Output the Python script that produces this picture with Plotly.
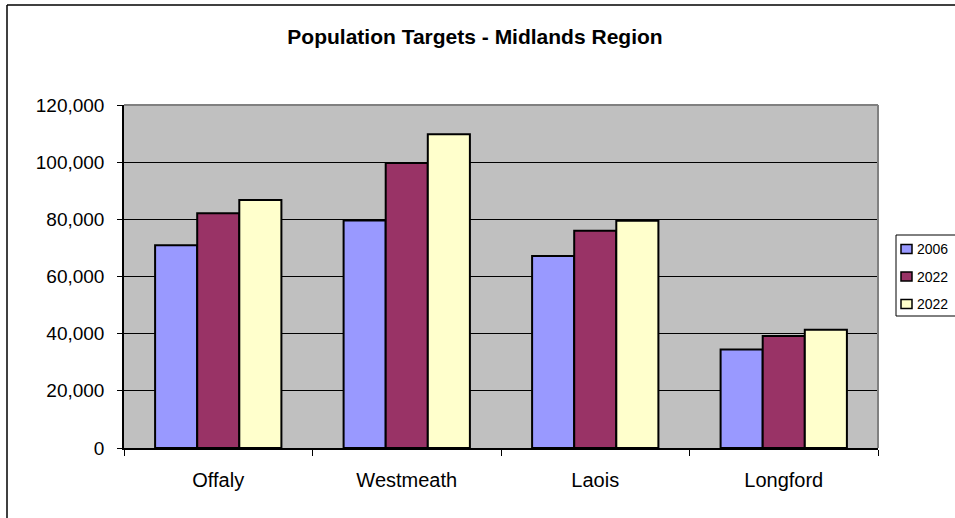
import plotly.graph_objects as go

# Population by county (Midlands region)
counties = ["Offaly", "Westmeath", "Laois", "Longford"]
series_names = ["2006", "2022", "2022"]
pop_2006 = [70900, 79600, 67200, 34500]
pop_2022_a = [82100, 99700, 76000, 39200]
pop_2022_b = [86800, 109800, 79500, 41400]
series_values = [pop_2006, pop_2022_a, pop_2022_b]
colors = ["#9999FF", "#993366", "#FFFFCC"]
y_ticks = [0, 20000, 40000, 60000, 80000, 100000, 120000]

W, H = 955, 518
L, R, T, B = 124, 878, 105, 448  # plot area in pixels

def px(x):
    return (x - L) / (R - L)

def py(y):
    return (B - y) / (B - T)

FONT = "Liberation Sans, Arial, sans-serif"

fig = go.Figure()
for name, vals, col in zip(series_names, series_values, colors):
    fig.add_trace(go.Bar(
        x=counties, y=vals, name=name,
        marker=dict(color=col, line=dict(color="black", width=2)),
        showlegend=False,
    ))

shapes = [
    # plot-area frame (top and right edges)
    dict(type="line", xref="paper", yref="paper", x0=0, x1=1, y0=1, y1=1,
         line=dict(color="#808080", width=2), layer="above"),
    dict(type="line", xref="paper", yref="paper", x0=1, x1=1, y0=0, y1=1,
         line=dict(color="#808080", width=2), layer="above"),
    # chart frame
    dict(type="line", xref="paper", yref="paper", x0=px(7), x1=px(W + 5),
         y0=py(5), y1=py(5), line=dict(color="black", width=1.5)),
    dict(type="line", xref="paper", yref="paper", x0=px(7), x1=px(7),
         y0=py(5), y1=py(H + 5), line=dict(color="black", width=1.5)),
    # legend box
    dict(type="rect", xref="paper", yref="paper", x0=px(896), x1=px(W + 10),
         y0=py(235), y1=py(316), line=dict(color="black", width=1),
         fillcolor="white"),
]
annotations = []
for i, (name, col) in enumerate(zip(series_names, colors)):
    yc = 249 + i * 27.5
    shapes.append(dict(type="rect", xref="paper", yref="paper",
                       x0=px(901), x1=px(912), y0=py(yc - 4.5), y1=py(yc + 4.5),
                       fillcolor=col, line=dict(color="black", width=1.5)))
    annotations.append(dict(xref="paper", yref="paper", x=px(915), y=py(yc),
                            xanchor="left", yanchor="middle", text=name,
                            showarrow=False,
                            font=dict(family=FONT, size=14, color="black")))

fig.update_layout(
    width=W, height=H,
    margin=dict(l=L, r=W - R, t=T, b=H - B, pad=0),
    paper_bgcolor="white",
    plot_bgcolor="#C0C0C0",
    barmode="group",
    bargap=0.33,
    bargroupgap=0,
    title=dict(text="<b>Population Targets - Midlands Region</b>",
               x=475 / W, y=1 - 37 / H, xanchor="center", yanchor="middle",
               font=dict(family=FONT, size=21, color="black")),
    font=dict(family=FONT, color="black"),
    xaxis=dict(
        type="category", showgrid=False, showline=True, linecolor="black",
        linewidth=1.5, ticks="outside", ticklen=6, tickcolor="black",
        tickson="boundaries", tickfont=dict(size=20), ticklabelstandoff=13,
    ),
    yaxis=dict(
        range=[0, 120000], tickvals=y_ticks, tickformat=",",
        showgrid=True, gridcolor="black", gridwidth=1,
        showline=True, linecolor="black", linewidth=1.5, zeroline=False,
        ticks="outside", ticklen=5, tickcolor="black",
        tickfont=dict(size=19), ticklabelstandoff=9,
    ),
    shapes=shapes,
    annotations=annotations,
)

fig.write_html("out.html")
